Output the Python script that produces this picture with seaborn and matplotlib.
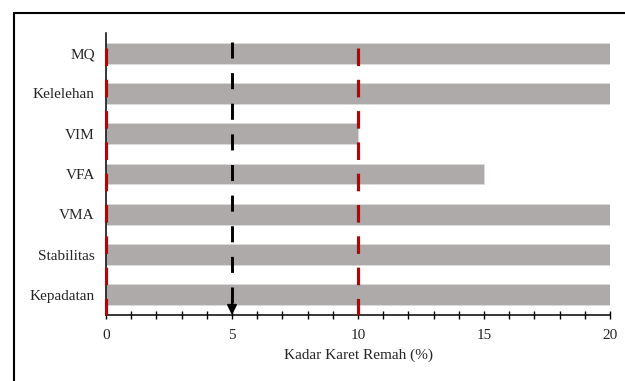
import numpy as np
import pandas as pd
import matplotlib
matplotlib.use('Agg')
import matplotlib.pyplot as plt
import seaborn as sns
from matplotlib.patches import Rectangle
from matplotlib.ticker import MultipleLocator

# data ========================================================================
parameter = ['MQ', 'Kelelehan', 'VIM', 'VFA', 'VMA', 'Stabilitas', 'Kepadatan']
kadar_maks = [20, 20, 10, 15, 20, 20, 20]
batas_merah = [0, 10]
kadar_optimum = 5

df = pd.DataFrame({'parameter': parameter, 'kadar': kadar_maks})

sns.set_style('white')
plt.rcParams['font.family'] = ['Liberation Serif', 'DejaVu Serif']

fig = plt.figure(figsize=(6.25, 3.81), dpi=100)
ax = fig.add_axes([0.1696, 0.1732, 0.8064, 0.7402])

sns.barplot(data=df, x='kadar', y='parameter', color='#AEAAAA', saturation=1,
            width=0.52, edgecolor='#dcdcdc', linewidth=0.6, ax=ax, zorder=1)

# garis batas (merah) dan kadar optimum (hitam)
for xb in batas_merah:
    ax.plot([xb, xb], [-0.13, 6.5], color='#C00000', lw=2.3, ls=(0, (5.5, 4.3)),
            zorder=4, clip_on=False)
ax.plot([kadar_optimum, kadar_optimum], [-0.28, 6.2], color='black', lw=2.1,
        ls=(0, (5.5, 5)), zorder=4)
ax.annotate('', xy=(kadar_optimum, 6.5), xytext=(kadar_optimum, 6.15),
            arrowprops=dict(arrowstyle='-|>', color='black', lw=1.5,
                            mutation_scale=14, shrinkA=0, shrinkB=0),
            zorder=5, annotation_clip=False)

ax.set_xlim(0, 20)
ax.set_ylim(6.5, -0.5)
ax.xaxis.set_major_locator(MultipleLocator(5))
ax.xaxis.set_minor_locator(MultipleLocator(1))
ax.tick_params(axis='x', which='both', direction='inout', length=6, width=1,
               color='black', labelsize=11, pad=7, bottom=True)
ax.tick_params(axis='y', left=False, length=0, labelsize=11, pad=8)
ax.set_xlabel('Kadar Karet Remah (%)', fontsize=11, labelpad=5)
ax.set_ylabel('')

sns.despine(ax=ax, top=True, right=True)
for s in ['left', 'bottom']:
    ax.spines[s].set_color('black')
    ax.spines[s].set_linewidth(1.1)

# bingkai luar
fig.add_artist(Rectangle((14 / 625, -0.2), 2, 1.2 - 13 / 381, transform=fig.transFigure,
                         fill=False, lw=1.5, edgecolor='black'))

fig.savefig('out.png', dpi=100)
